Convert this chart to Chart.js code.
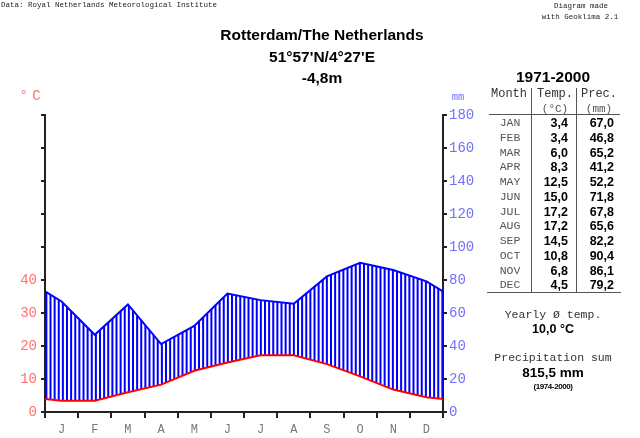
<!DOCTYPE html>
<html><head><meta charset="utf-8">
<script src="https://cdn.jsdelivr.net/npm/chart.js@4/dist/chart.umd.min.js"></script>
<style>
html,body{margin:0;padding:0;background:#fff;}
#wrap{position:relative;width:640px;height:438px;overflow:hidden;background:#fff;}
#c{position:absolute;left:0;top:0;}
.t{position:absolute;white-space:nowrap;line-height:1;transform:translate(-50%,-50%);}
.l{transform:translate(0,-50%);}
.r{transform:translate(-100%,-50%);}
.mono{font-family:"Liberation Mono","Courier New",monospace;}
.sans{font-family:"Liberation Sans",Arial,sans-serif;font-weight:bold;}
.hl{position:absolute;background:#555;}
</style></head>
<body><div id="wrap"><canvas id="c" width="640" height="438"></canvas></div>
<script>
const MONTHS = ['J','F','M','A','M','J','J','A','S','O','N','D'];
const MONTH_NAMES = ['JAN','FEB','MAR','APR','MAY','JUN','JUL','AUG','SEP','OCT','NOV','DEC'];
const TEMP = [3.4, 3.4, 6.0, 8.3, 12.5, 15.0, 17.2, 17.2, 14.5, 10.8, 6.8, 4.5];
const PREC = [67.0, 46.8, 65.2, 41.2, 52.2, 71.8, 67.8, 65.6, 82.2, 90.4, 86.1, 79.2];
const TEMP_LABELS = [0, 10, 20, 30, 40];
const PREC_LABELS = [0, 20, 40, 60, 80, 100, 120, 140, 160, 180];

const wrap = document.getElementById('wrap');
function txt(s, x, y, cls, style) {
  const d = document.createElement('div');
  d.className = 't ' + (cls || '');
  d.textContent = s;
  d.style.left = x + 'px';
  d.style.top = y + 'px';
  if (style) d.style.cssText += style;
  wrap.appendChild(d);
  return d;
}
function line(x, y, w, h) {
  const d = document.createElement('div');
  d.className = 'hl';
  d.style.cssText += `left:${x}px;top:${y}px;width:${w}px;height:${h}px;`;
  wrap.appendChild(d);
}
const fmt = v => v.toFixed(1).replace('.', ',');

// header texts
txt('Data: Royal Netherlands Meteorological Institute', 1, 6, 'l mono', 'font-size:7.5px;color:#222;');
txt('Diagram made', 581, 7, 'mono', 'font-size:7.5px;color:#222;');
txt('with Geoklima 2.1', 580, 18, 'mono', 'font-size:7.5px;color:#222;');
txt('Rotterdam/The Netherlands', 322, 35, 'sans', 'font-size:15.5px;color:#000;');
txt("51°57'N/4°27'E", 322, 57, 'sans', 'font-size:15.5px;color:#000;');
txt('-4,8m', 322, 78, 'sans', 'font-size:15.5px;color:#000;');
txt('° C', 29, 96, 'mono', 'font-size:14px;color:#ff7070;letter-spacing:-2px;');
txt('mm', 458, 97, 'mono', 'font-size:10.5px;color:#7070ff;');

// table
txt('1971-2000', 553, 77, 'sans', 'font-size:15.5px;color:#000;');
txt('Month', 509, 94, 'mono', 'font-size:12px;color:#333;');
txt('Temp.', 555, 94, 'mono', 'font-size:12px;color:#333;');
txt('Prec.', 599, 94, 'mono', 'font-size:12px;color:#333;');
txt('(°C)', 555, 109, 'mono', 'font-size:11px;color:#555;');
txt('(mm)', 599, 109, 'mono', 'font-size:11px;color:#555;');
line(531, 88, 1, 205);
line(576, 88, 1, 205);
line(489, 114, 131, 1);
line(487, 292, 134, 1);
MONTH_NAMES.forEach((m, i) => {
  const y = 123 + i * 14.75;
  txt(m, 510, y, 'mono', 'font-size:11.5px;color:#555;');
  txt(fmt(TEMP[i]), 568, y, 'r sans', 'font-size:12.5px;color:#000;');
  txt(fmt(PREC[i]), 614, y, 'r sans', 'font-size:12.5px;color:#000;');
});
const meanT = TEMP.reduce((a, b) => a + b, 0) / TEMP.length;
const sumP = PREC.reduce((a, b) => a + b, 0);
txt('Yearly Ø temp.', 553, 315, 'mono', 'font-size:11.5px;color:#333;');
txt(fmt(meanT) + ' °C', 553, 329, 'sans', 'font-size:12.5px;color:#000;');
txt('Precipitation sum', 553, 358, 'mono', 'font-size:11.5px;color:#333;');
txt(fmt(sumP) + ' mm', 553, 373, 'sans', 'font-size:13.5px;color:#000;');
txt('(1974-2000)', 553, 387, 'sans', 'font-size:8px;color:#000;letter-spacing:-0.4px;');

// cyclic series: edges use the mean of December and January
function cyc(arr) {
  const edge = (arr[0] + arr[arr.length - 1]) / 2;
  return [{x: 0, y: edge}].concat(arr.map((v, i) => ({x: i + 0.5, y: v})), [{x: arr.length, y: edge}]);
}

// vertical hatching pattern: 8 lines per month-width tile
const pc = document.createElement('canvas');
pc.width = 33; pc.height = 4;
const pctx = pc.getContext('2d');
pctx.fillStyle = '#0000ff';
for (let i = 0; i < 8; i++) pctx.fillRect(i * 4.125, 0, 2, 4);
const hatch = pctx.createPattern(pc, 'repeat');

const axisColor = '#222';
new Chart(document.getElementById('c'), {
  type: 'line',
  data: {
    datasets: [
      {
        label: 'Precipitation', data: cyc(PREC), xAxisID: 'x', yAxisID: 'yP',
        borderColor: '#0000ff', borderWidth: 2, pointRadius: 0, tension: 0,
        fill: {target: 1, above: hatch, below: 'rgba(0,0,0,0)'}
      },
      {
        label: 'Temperature', data: cyc(TEMP), xAxisID: 'x', yAxisID: 'yT',
        borderColor: '#ff0000', borderWidth: 2, pointRadius: 0, tension: 0, fill: false
      }
    ]
  },
  options: {
    responsive: false, animation: false, events: [],
    layout: {padding: {top: 115, left: 0, right: 0, bottom: 0}},
    plugins: {legend: {display: false}, tooltip: {enabled: false}, filler: {drawTime: 'beforeDatasetsDraw'}},
    scales: {
      x: {
        type: 'linear', position: 'bottom', min: 0, max: 12,
        afterBuildTicks: s => { s.ticks = MONTHS.map((m, i) => ({value: i + 0.5})); },
        afterFit: s => { s.height = 26; },
        grid: {offset: true, drawOnChartArea: false, drawTicks: true, tickLength: 6, color: axisColor, lineWidth: 2},
        border: {display: true, color: axisColor, width: 2},
        ticks: {callback: (v, i) => MONTHS[i], color: '#777', font: {family: 'Liberation Mono', size: 12}, padding: 5, autoSkip: false, maxRotation: 0}
      },
      yT: {
        type: 'linear', position: 'left', min: 0, max: 90,
        afterBuildTicks: s => { s.ticks = Array.from({length: 10}, (_, i) => ({value: i * 10})); },
        afterFit: s => { s.width = 45; },
        grid: {drawOnChartArea: false, tickLength: 4, color: axisColor, lineWidth: 2},
        border: {display: true, color: axisColor, width: 2},
        ticks: {callback: v => TEMP_LABELS.includes(v) ? String(v) : '', color: '#ff7070', font: {family: 'Liberation Mono', size: 14}, padding: 4}
      },
      yP: {
        type: 'linear', position: 'right', min: 0, max: 180,
        afterBuildTicks: s => { s.ticks = PREC_LABELS.map(v => ({value: v})); },
        afterFit: s => { s.width = 197; },
        grid: {drawOnChartArea: false, tickLength: 4, color: axisColor, lineWidth: 2},
        border: {display: true, color: axisColor, width: 2},
        ticks: {color: '#7070ff', font: {family: 'Liberation Mono', size: 14}, padding: 2}
      }
    }
  }
});
</script>
</body></html>
